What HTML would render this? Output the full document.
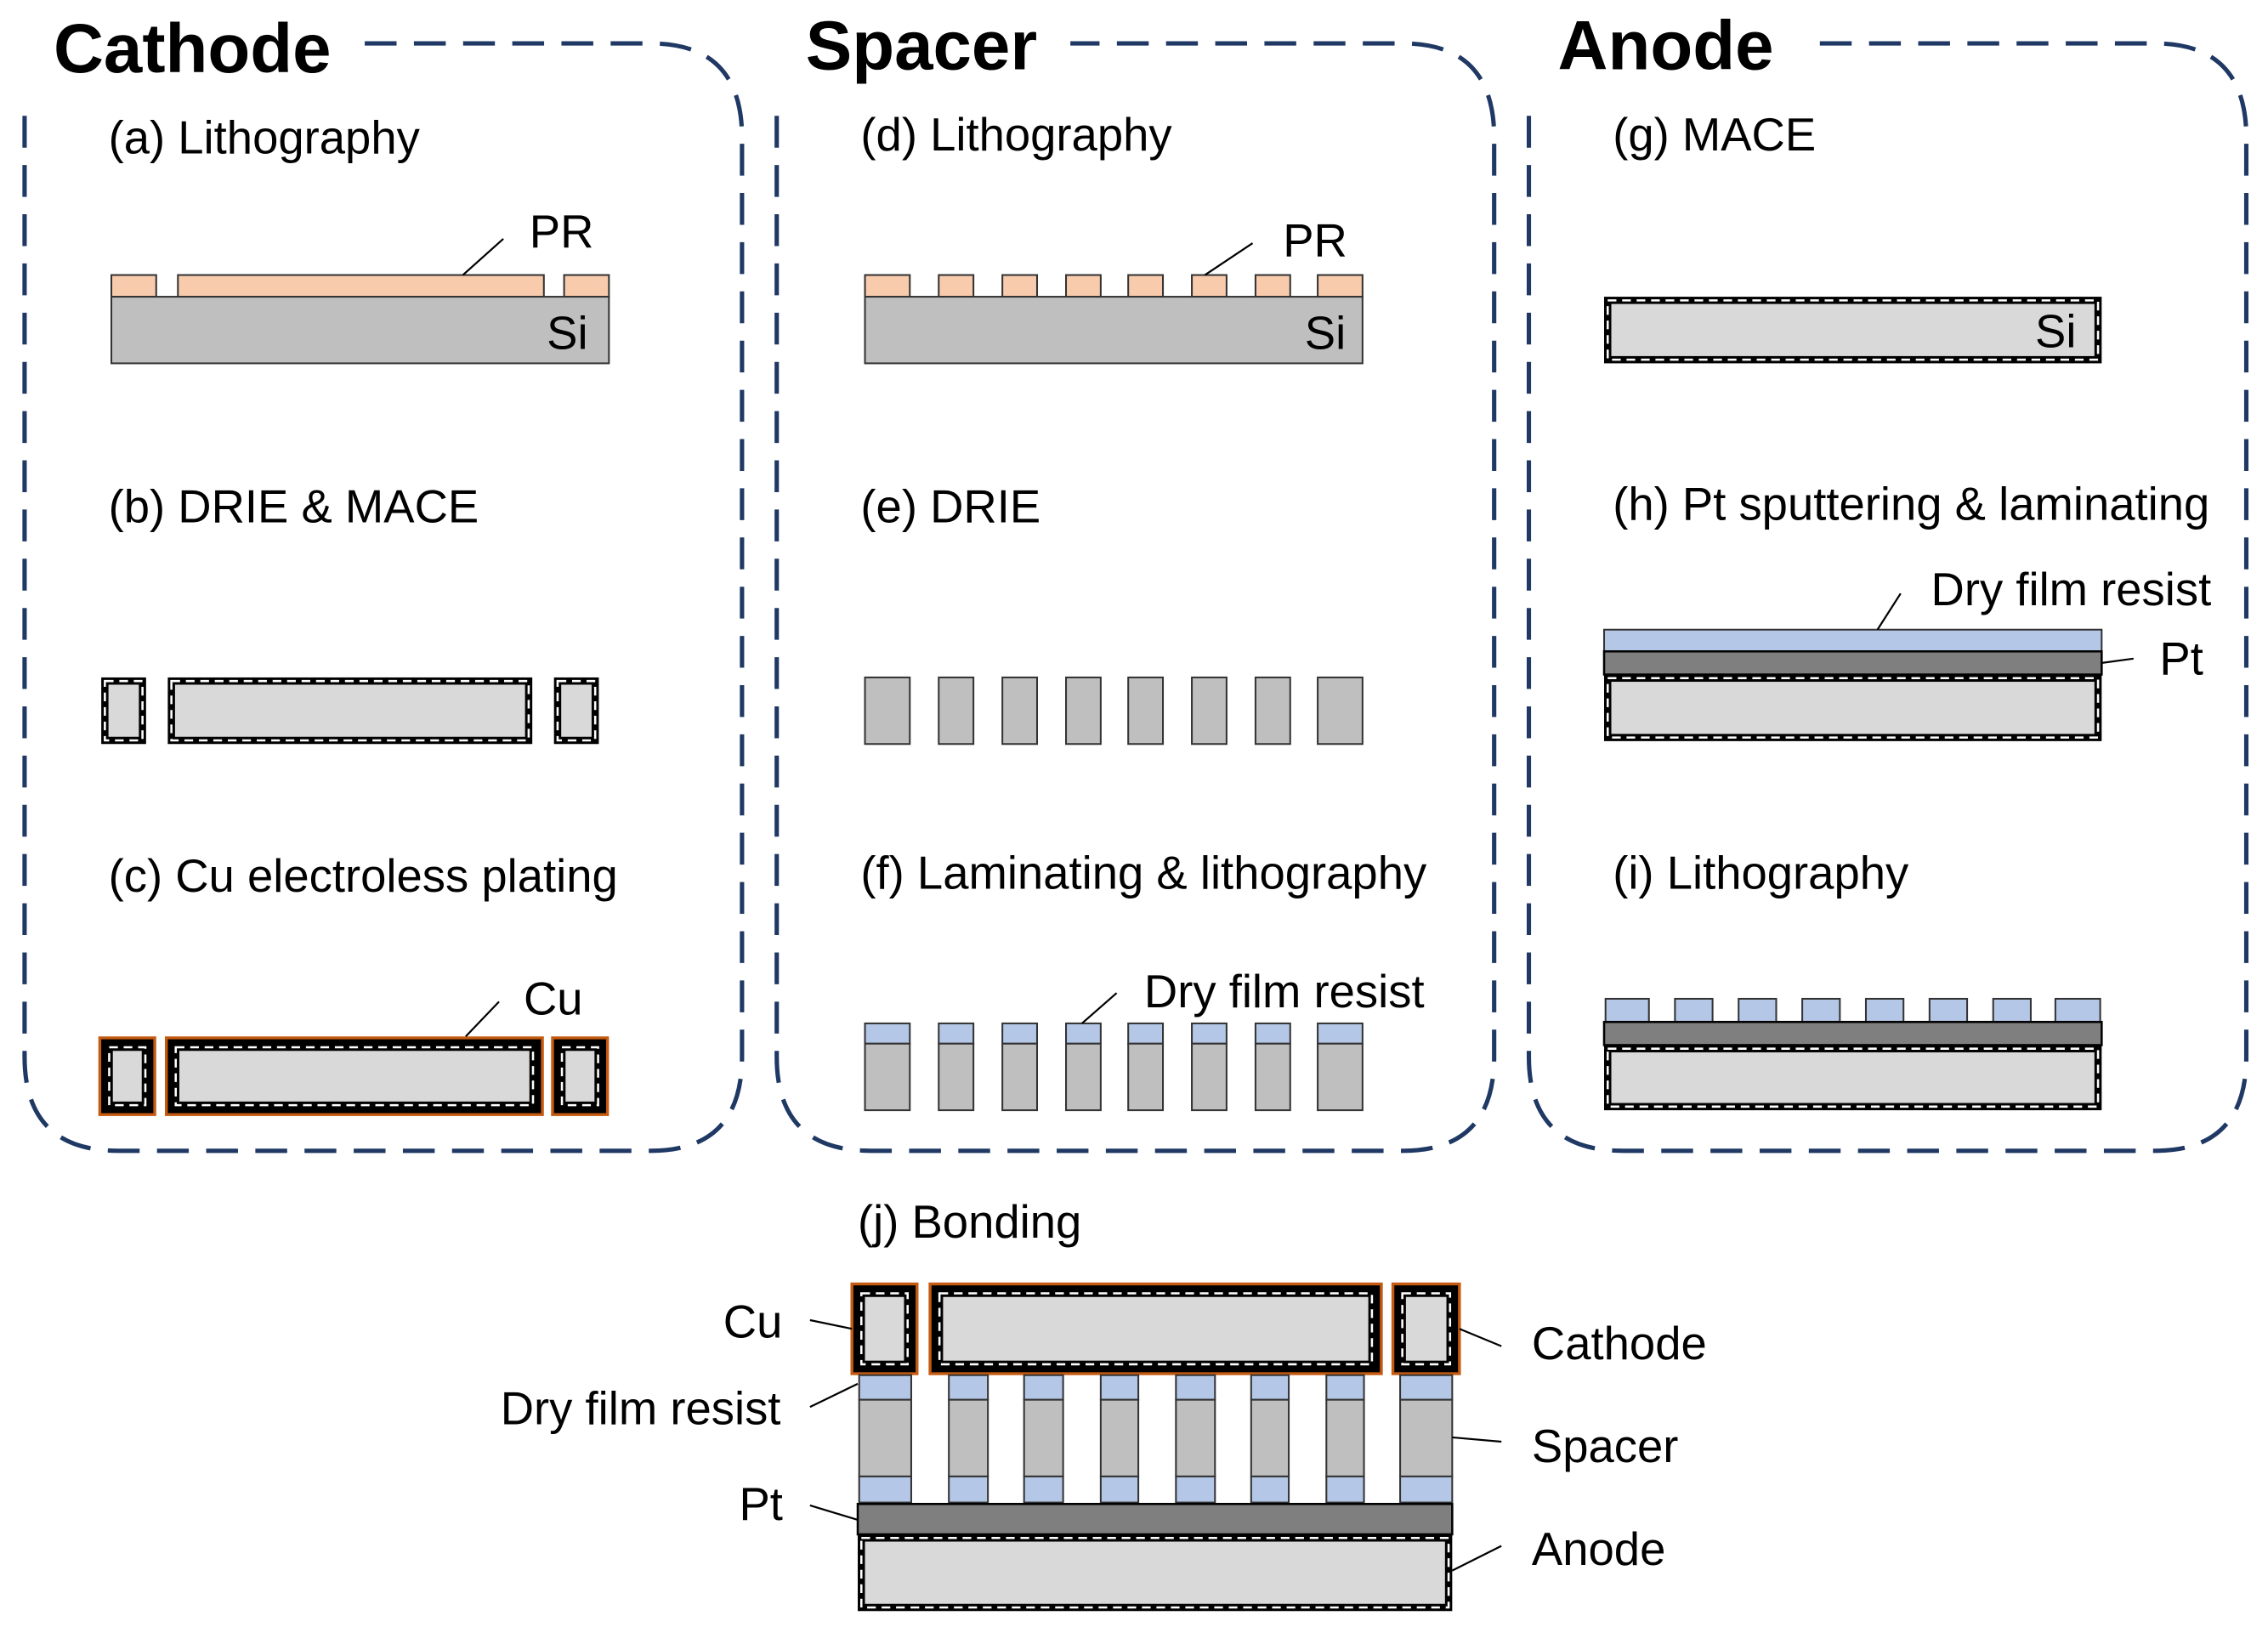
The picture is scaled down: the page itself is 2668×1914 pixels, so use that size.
<!DOCTYPE html>
<html><head><meta charset="utf-8"><style>
html,body{margin:0;padding:0;background:#fff}
svg{display:block}
text{font-family:"Liberation Sans",Arial,sans-serif;fill:#000}
.l{font-size:32px}
.t{font-size:48px;font-weight:bold}
.pn{fill:none;stroke:#1f3864;stroke-width:3;stroke-dasharray:22 12}
.ld{stroke:#000;stroke-width:1.3;fill:none}
.pr{fill:#f8cbad;stroke:#333;stroke-width:1.2}
.si{fill:#bfbfbf;stroke:#333;stroke-width:1.2}
.bl{fill:#b4c7e7;stroke:#333;stroke-width:1.2}
.pt{fill:#7f7f7f;stroke:#000;stroke-width:1.5}
.d{fill:none;stroke:#fff;stroke-width:1.5;stroke-dasharray:6 4}
.cu{fill:#000;stroke:#c55a11;stroke-width:2}
</style></head><body>
<svg width="2668" height="1914" viewBox="0 0 1568 1124" preserveAspectRatio="none" xmlns="http://www.w3.org/2000/svg">
<path class="pn" d="M17,80 V730 Q17,795 82,795 H450 Q513,795 513,730 V95 Q513,30 450,30 H250"/>
<path class="pn" d="M537,80 V730 Q537,795 602,795 H970 Q1033,795 1033,730 V95 Q1033,30 970,30 H740"/>
<path class="pn" d="M1057,80 V730 Q1057,795 1122,795 H1490 Q1553,795 1553,730 V95 Q1553,30 1490,30 H1250"/>
<text class="t" x="37" y="50">Cathode</text>
<text class="t" x="557" y="48">Spacer</text>
<text class="t" x="1077" y="48">Anode</text>

<text class="l" x="75" y="106">(a) Lithography</text>
<rect class="pr" x="77" y="190" width="31" height="15"/>
<rect class="pr" x="123" y="190" width="253" height="15"/>
<rect class="pr" x="390" y="190" width="31" height="15"/>
<rect class="si" x="77" y="205" width="344" height="46"/>
<text class="l" x="378" y="241">Si</text>
<text class="l" x="366" y="171">PR</text>
<line class="ld" x1="320" y1="190" x2="348" y2="165"/>

<text class="l" x="75" y="361">(b) DRIE &amp; MACE</text>
<rect x="70" y="468" width="31" height="46"/><rect class="d" x="72.5" y="470.5" width="26" height="41"/><rect x="75" y="473" width="21" height="36" fill="#d9d9d9"/>
<rect x="116" y="468" width="252" height="46"/><rect class="d" x="118.5" y="470.5" width="247" height="41"/><rect x="121" y="473" width="242" height="36" fill="#d9d9d9"/>
<rect x="383" y="468" width="31" height="46"/><rect class="d" x="385.5" y="470.5" width="26" height="41"/><rect x="388" y="473" width="21" height="36" fill="#d9d9d9"/>

<text class="l" x="75" y="616">(c) Cu electroless plating</text>
<rect class="cu" x="69" y="717" width="38" height="53"/><rect x="73" y="721" width="30" height="45"/><rect class="d" x="75.5" y="723.5" width="25" height="40"/><rect x="78" y="726" width="20" height="35" fill="#d9d9d9"/>
<rect class="cu" x="115" y="717" width="260" height="53"/><rect x="119" y="721" width="252" height="45"/><rect class="d" x="121.5" y="723.5" width="247" height="40"/><rect x="124" y="726" width="242" height="35" fill="#d9d9d9"/>
<rect class="cu" x="382" y="717" width="38" height="53"/><rect x="386" y="721" width="30" height="45"/><rect class="d" x="388.5" y="723.5" width="25" height="40"/><rect x="391" y="726" width="20" height="35" fill="#d9d9d9"/>
<text class="l" x="362" y="701">Cu</text>
<line class="ld" x1="322" y1="716" x2="345" y2="692"/>

<text class="l" x="595" y="104">(d) Lithography</text>
<rect class="pr" x="598" y="190" width="31" height="15"/>
<rect class="pr" x="649" y="190" width="24" height="15"/>
<rect class="pr" x="693" y="190" width="24" height="15"/>
<rect class="pr" x="737" y="190" width="24" height="15"/>
<rect class="pr" x="780" y="190" width="24" height="15"/>
<rect class="pr" x="824" y="190" width="24" height="15"/>
<rect class="pr" x="868" y="190" width="24" height="15"/>
<rect class="pr" x="911" y="190" width="31" height="15"/>
<rect class="si" x="598" y="205" width="344" height="46"/>
<text class="l" x="902" y="241">Si</text>
<text class="l" x="887" y="177">PR</text>
<line class="ld" x1="833" y1="190" x2="866" y2="168"/>

<text class="l" x="595" y="361">(e) DRIE</text>
<rect class="si" x="598" y="468" width="31" height="46"/>
<rect class="si" x="649" y="468" width="24" height="46"/>
<rect class="si" x="693" y="468" width="24" height="46"/>
<rect class="si" x="737" y="468" width="24" height="46"/>
<rect class="si" x="780" y="468" width="24" height="46"/>
<rect class="si" x="824" y="468" width="24" height="46"/>
<rect class="si" x="868" y="468" width="24" height="46"/>
<rect class="si" x="911" y="468" width="31" height="46"/>

<text class="l" x="595" y="614">(f) Laminating &amp; lithography</text>
<g>
<rect class="bl" x="598" y="707" width="31" height="14"/><rect class="si" x="598" y="721" width="31" height="46"/>
<rect class="bl" x="649" y="707" width="24" height="14"/><rect class="si" x="649" y="721" width="24" height="46"/>
<rect class="bl" x="693" y="707" width="24" height="14"/><rect class="si" x="693" y="721" width="24" height="46"/>
<rect class="bl" x="737" y="707" width="24" height="14"/><rect class="si" x="737" y="721" width="24" height="46"/>
<rect class="bl" x="780" y="707" width="24" height="14"/><rect class="si" x="780" y="721" width="24" height="46"/>
<rect class="bl" x="824" y="707" width="24" height="14"/><rect class="si" x="824" y="721" width="24" height="46"/>
<rect class="bl" x="868" y="707" width="24" height="14"/><rect class="si" x="868" y="721" width="24" height="46"/>
<rect class="bl" x="911" y="707" width="31" height="14"/><rect class="si" x="911" y="721" width="31" height="46"/>
</g>
<text class="l" x="791" y="696">Dry film resist</text>
<line class="ld" x1="748" y1="707" x2="772" y2="686"/>

<text class="l" x="1115" y="104">(g) MACE</text>
<rect x="1109" y="205" width="344" height="46"/><rect class="d" x="1111.5" y="207.5" width="339" height="41"/><rect x="1114" y="210" width="334" height="36" fill="#d9d9d9"/>
<text class="l" x="1407" y="240">Si</text>

<text class="l" x="1115" y="359">(h) Pt sputtering &amp; laminating</text>
<rect class="bl" x="1109" y="435" width="344" height="15"/>
<rect class="pt" x="1109" y="450" width="344" height="16"/>
<rect x="1109" y="466" width="344" height="46"/><rect class="d" x="1111.5" y="468.5" width="339" height="41"/><rect x="1114" y="471" width="334" height="36" fill="#d9d9d9"/>
<text class="l" x="1335" y="418">Dry film resist</text>
<line class="ld" x1="1298" y1="435" x2="1314" y2="410"/>
<text class="l" x="1493" y="466">Pt</text>
<line class="ld" x1="1453" y1="458" x2="1475" y2="455"/>

<text class="l" x="1115" y="614">(i) Lithography</text>
<rect class="bl" x="1110" y="690" width="30" height="16"/>
<rect class="bl" x="1158" y="690" width="26" height="16"/>
<rect class="bl" x="1202" y="690" width="26" height="16"/>
<rect class="bl" x="1246" y="690" width="26" height="16"/>
<rect class="bl" x="1290" y="690" width="26" height="16"/>
<rect class="bl" x="1334" y="690" width="26" height="16"/>
<rect class="bl" x="1378" y="690" width="26" height="16"/>
<rect class="bl" x="1421" y="690" width="31" height="16"/>
<rect class="pt" x="1109" y="706" width="344" height="16"/>
<rect x="1109" y="722" width="344" height="45"/><rect class="d" x="1111.5" y="724.5" width="339" height="40"/><rect x="1114" y="727" width="334" height="35" fill="#d9d9d9"/>

<text class="l" x="593" y="855">(j) Bonding</text>
<rect class="cu" x="589" y="887" width="45" height="62"/><rect x="593" y="891" width="37" height="54"/><rect class="d" x="595.5" y="893.5" width="32" height="49"/><rect x="598" y="896" width="27" height="44" fill="#d9d9d9"/>
<rect class="cu" x="643" y="887" width="312" height="62"/><rect x="647" y="891" width="304" height="54"/><rect class="d" x="649.5" y="893.5" width="299" height="49"/><rect x="652" y="896" width="294" height="44" fill="#d9d9d9"/>
<rect class="cu" x="963" y="887" width="46" height="62"/><rect x="967" y="891" width="38" height="54"/><rect class="d" x="969.5" y="893.5" width="33" height="49"/><rect x="972" y="896" width="28" height="44" fill="#d9d9d9"/>
<g>
<rect class="bl" x="594" y="950" width="36" height="17"/><rect class="si" x="594" y="967" width="36" height="53"/><rect class="bl" x="594" y="1020" width="36" height="18"/>
<rect class="bl" x="656" y="950" width="27" height="17"/><rect class="si" x="656" y="967" width="27" height="53"/><rect class="bl" x="656" y="1020" width="27" height="18"/>
<rect class="bl" x="708" y="950" width="27" height="17"/><rect class="si" x="708" y="967" width="27" height="53"/><rect class="bl" x="708" y="1020" width="27" height="18"/>
<rect class="bl" x="761" y="950" width="26" height="17"/><rect class="si" x="761" y="967" width="26" height="53"/><rect class="bl" x="761" y="1020" width="26" height="18"/>
<rect class="bl" x="813" y="950" width="27" height="17"/><rect class="si" x="813" y="967" width="27" height="53"/><rect class="bl" x="813" y="1020" width="27" height="18"/>
<rect class="bl" x="865" y="950" width="26" height="17"/><rect class="si" x="865" y="967" width="26" height="53"/><rect class="bl" x="865" y="1020" width="26" height="18"/>
<rect class="bl" x="917" y="950" width="26" height="17"/><rect class="si" x="917" y="967" width="26" height="53"/><rect class="bl" x="917" y="1020" width="26" height="18"/>
<rect class="bl" x="968" y="950" width="36" height="17"/><rect class="si" x="968" y="967" width="36" height="53"/><rect class="bl" x="968" y="1020" width="36" height="18"/>
</g>
<rect class="pt" x="593" y="1039" width="411" height="21"/>
<rect x="593" y="1060" width="411" height="53"/><rect class="d" x="595.5" y="1062.5" width="406" height="48"/><rect x="598" y="1065" width="401" height="43" fill="#d9d9d9"/>
<text class="l" x="500" y="924">Cu</text>
<line class="ld" x1="560" y1="912" x2="589" y2="918"/>
<text class="l" x="346" y="984">Dry film resist</text>
<line class="ld" x1="560" y1="972" x2="593" y2="956"/>
<text class="l" x="511" y="1050">Pt</text>
<line class="ld" x1="560" y1="1040" x2="593" y2="1050"/>
<text class="l" x="1059" y="939">Cathode</text>
<line class="ld" x1="1009" y1="918" x2="1038" y2="930"/>
<text class="l" x="1059" y="1010">Spacer</text>
<line class="ld" x1="1004" y1="993" x2="1038" y2="996"/>
<text class="l" x="1059" y="1081">Anode</text>
<line class="ld" x1="1004" y1="1085" x2="1038" y2="1068"/>
</svg>
</body></html>
